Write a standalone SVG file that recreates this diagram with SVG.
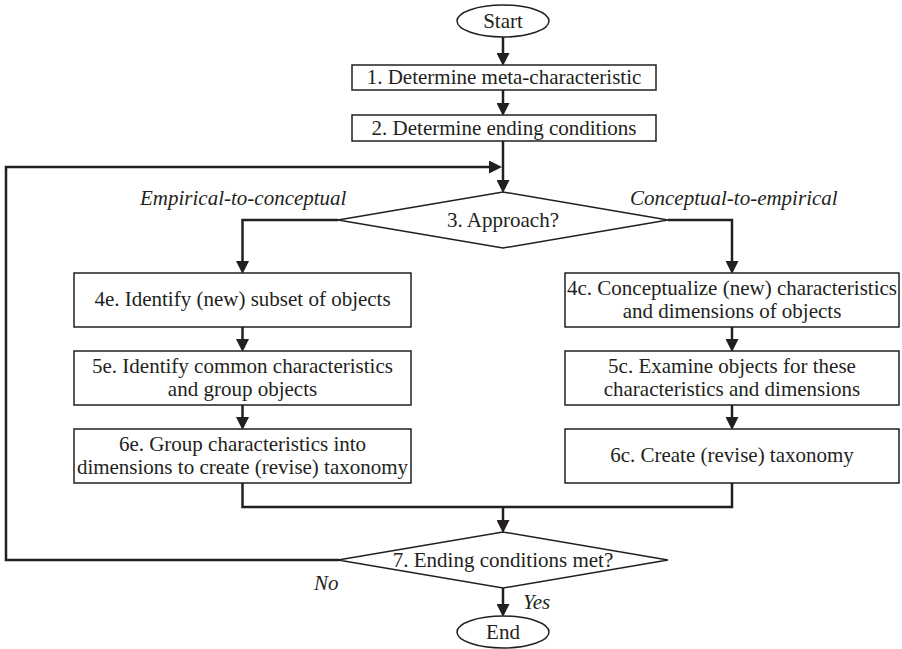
<svg xmlns="http://www.w3.org/2000/svg" width="902" height="649" viewBox="0 0 902 649">
<defs>
<marker id="ah" markerUnits="userSpaceOnUse" markerWidth="13" markerHeight="13" refX="6" refY="6.5" orient="auto">
<path d="M0,0 L13,6.5 L0,13 z" fill="#231f20"/>
</marker>
<style>
.t{font-family:"Liberation Serif","Times New Roman",serif;font-size:21px;fill:#231f20;text-anchor:middle}
.i{font-family:"Liberation Serif","Times New Roman",serif;font-size:21px;font-style:italic;fill:#231f20}
.b{fill:#fff;stroke:#231f20;stroke-width:1.5}
.c{fill:none;stroke:#231f20;stroke-width:2.5}
.a{fill:none;stroke:#231f20;stroke-width:2.5;marker-end:url(#ah)}
</style>
</defs>
<rect width="902" height="649" fill="#fff"/>
<g id="connectors">
<line class="a" x1="503" y1="37" x2="503" y2="59"/>
<line class="a" x1="503" y1="90" x2="503" y2="109"/>
<line class="a" x1="503" y1="141" x2="503" y2="186"/>
<polyline class="a" points="339,560 6,560 6,167 495,167"/>
<polyline class="a" points="338,220 242.5,220 242.5,267"/>
<polyline class="a" points="668,220 732,220 732,267"/>
<line class="a" x1="242.5" y1="327" x2="242.5" y2="345"/>
<line class="a" x1="242.5" y1="405" x2="242.5" y2="423"/>
<line class="a" x1="732" y1="327" x2="732" y2="345"/>
<line class="a" x1="732" y1="405" x2="732" y2="423"/>
<polyline class="c" points="242.5,483 242.5,507 732,507 732,483"/>
<line class="a" x1="503" y1="507" x2="503" y2="526"/>
<line class="a" x1="503" y1="588" x2="503" y2="610"/>
</g>
<g id="start">
<ellipse class="b" cx="503" cy="21" rx="46" ry="16"/>
<text class="t" x="503" y="28">Start</text>
</g>
<g id="step1">
<rect class="b" x="352" y="65" width="304" height="25"/>
<text class="t" x="504" y="84">1. Determine meta-characteristic</text>
</g>
<g id="step2">
<rect class="b" x="352" y="115" width="304" height="26"/>
<text class="t" x="504" y="135">2. Determine ending conditions</text>
</g>
<g id="step3">
<polygon class="b" points="338,220 503,192 668,220 503,248"/>
<text class="t" x="503" y="227">3. Approach?</text>
</g>
<g id="labels">
<text class="i" x="140" y="205">Empirical-to-conceptual</text>
<text class="i" x="630" y="205">Conceptual-to-empirical</text>
<text class="i" x="314" y="590">No</text>
<text class="i" x="523" y="609">Yes</text>
</g>
<g id="step4e">
<rect class="b" x="74" y="273" width="337" height="54"/>
<text class="t" x="242.5" y="306">4e. Identify (new) subset of objects</text>
</g>
<g id="step5e">
<rect class="b" x="74" y="351" width="337" height="54"/>
<text class="t" x="242.5" y="373">5e. Identify common characteristics</text>
<text class="t" x="242.5" y="396">and group objects</text>
</g>
<g id="step6e">
<rect class="b" x="74" y="429" width="337" height="54"/>
<text class="t" x="242.5" y="451">6e. Group characteristics into</text>
<text class="t" x="242.5" y="474">dimensions to create (revise) taxonomy</text>
</g>
<g id="step4c">
<rect class="b" x="565" y="273" width="334" height="54"/>
<text class="t" x="732" y="295">4c. Conceptualize (new) characteristics</text>
<text class="t" x="732" y="318">and dimensions of objects</text>
</g>
<g id="step5c">
<rect class="b" x="565" y="351" width="334" height="54"/>
<text class="t" x="732" y="373">5c. Examine objects for these</text>
<text class="t" x="732" y="396">characteristics and dimensions</text>
</g>
<g id="step6c">
<rect class="b" x="565" y="429" width="334" height="54"/>
<text class="t" x="732" y="462">6c. Create (revise) taxonomy</text>
</g>
<g id="step7">
<polygon class="b" points="338,560 503,532 668,560 503,588"/>
<text class="t" x="503" y="567">7. Ending conditions met?</text>
</g>
<g id="end">
<ellipse class="b" cx="503" cy="632" rx="46" ry="16"/>
<text class="t" x="503" y="639">End</text>
</g>
</svg>
